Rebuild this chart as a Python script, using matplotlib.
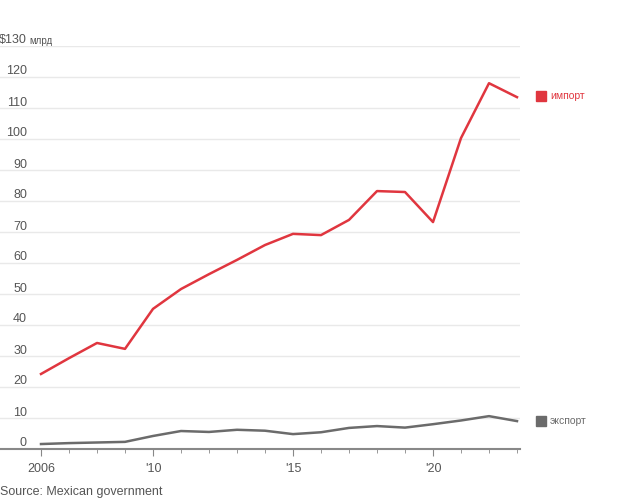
import matplotlib.pyplot as plt
from matplotlib.ticker import FixedLocator
from matplotlib.transforms import offset_copy

plt.rcParams['font.family'] = ['Liberation Sans Narrow', 'Liberation Sans', 'DejaVu Sans']

years = list(range(2006, 2024))
imports = [24.2, 29.3, 34.2, 32.3, 45.2, 51.6, 56.4, 61.0, 65.8, 69.4, 69.0,
           73.9, 83.2, 82.9, 73.2, 100.3, 118.0, 113.5]
exports = [1.6, 1.9, 2.1, 2.3, 4.2, 5.8, 5.5, 6.2, 5.9, 4.8, 5.4,
           6.8, 7.4, 6.9, 8.0, 9.2, 10.6, 9.0]
yticks = list(range(0, 131, 10))
xtick_pos = [2006, 2010, 2015, 2020]
xtick_labels = ['2006', "'10", "'15", "'20"]
legend_labels = ['импорт', 'экспорт']
legend_y = [113.8, 9.0]

red = '#e0363f'
gray = '#6b6b6b'
text_col = '#555555'

fig = plt.figure(figsize=(6.2, 5), dpi=100)
ax = fig.add_axes([0, 0.102, 520 / 620, 0.806])

for v in yticks[1:]:
    ax.axhline(v, color='#e9e9e9', lw=1, zorder=0)

ax.plot(years, imports, color=red, lw=1.8, zorder=3)
ax.plot(years, exports, color=gray, lw=1.8, zorder=3)

ax.set_xlim(2006 - 41 / 28, 2023 + 3 / 28)
ax.set_ylim(0, 130)

for s in ['top', 'right', 'left']:
    ax.spines[s].set_visible(False)
ax.spines['bottom'].set_color('#888888')
ax.spines['bottom'].set_linewidth(1.5)
ax.set_yticks([])

ax.set_xticks(xtick_pos)
ax.set_xticklabels(xtick_labels, fontsize=9, color=text_col)
ax.xaxis.set_minor_locator(FixedLocator(years))
ax.tick_params(axis='x', which='major', length=5, color='#888888', pad=5)
ax.tick_params(axis='x', which='minor', length=3, color='#888888')

for v in yticks:
    ax.annotate('$130' if v == 130 else str(v), xy=(0, v),
                xycoords=('axes fraction', 'data'),
                xytext=(27 * 0.72, 1.8), textcoords='offset points',
                ha='right', va='baseline', fontsize=9, color=text_col)
    if v == 130:
        ax.annotate('млрд', xy=(0, v), xycoords=('axes fraction', 'data'),
                    xytext=(29 * 0.72, 1.8), textcoords='offset points',
                    ha='left', va='baseline', fontsize=7, color=text_col)

# labels at right instead of a legend box
sq_trans = offset_copy(ax.get_yaxis_transform(), fig=fig, x=21 * 0.72, y=0, units='points')
for val, lab, col in zip(legend_y, legend_labels, [red, gray]):
    ax.plot([1.0], [val], transform=sq_trans, marker='s', ms=7, color=col,
            clip_on=False, ls='none')
    ax.annotate(lab, xy=(1, val), xycoords=('axes fraction', 'data'),
                xytext=(30 * 0.72, 0), textcoords='offset points',
                ha='left', va='center', fontsize=7.5, color=col)

fig.text(0.0, 0.004, 'Source: Mexican government', fontsize=9, color=text_col,
         ha='left', va='bottom')

fig.savefig('out.png', dpi=100)
